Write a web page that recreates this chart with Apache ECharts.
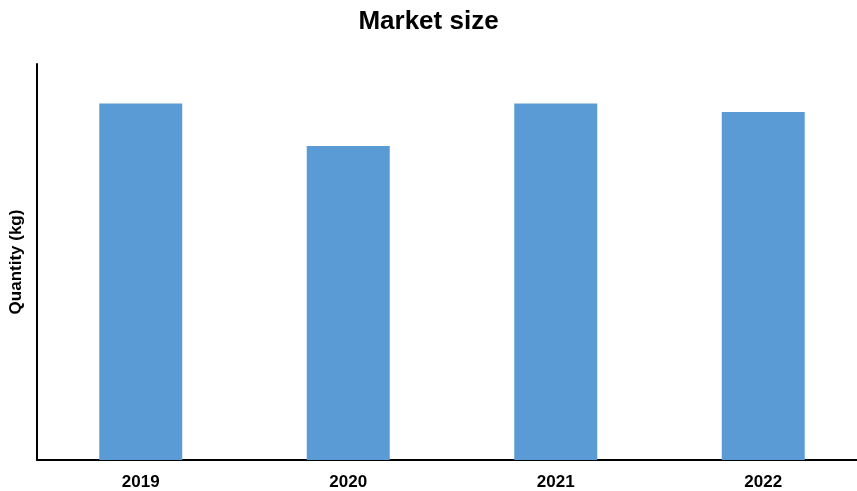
<!DOCTYPE html>
<html><head><meta charset="utf-8">
<script src="https://cdn.jsdelivr.net/npm/echarts@6/dist/echarts.min.js"></script>
<style>html,body{margin:0;padding:0;background:#fff}#c{width:857px;height:491px}</style>
</head><body><div id="c"></div>
<script>
const categories = ['2019', '2020', '2021', '2022'];
const marketSize = [90.0, 79.3, 90.0, 87.9];
const yMax = 100;

const chart = echarts.init(document.getElementById('c'), null, {renderer: 'canvas'});
chart.setOption({
  animation: false,
  backgroundColor: '#ffffff',
  title: {
    text: 'Market size', left: 'center', top: 4,
    textStyle: {fontFamily: 'Liberation Sans, Arial', fontWeight: 'bold', fontSize: 26, color: '#000'}
  },
  grid: {left: 37, right: -10, top: 64, bottom: 31, containLabel: false, outerBoundsMode: 'none'},
  xAxis: {
    type: 'category', data: categories,
    axisLine: {lineStyle: {color: '#000', width: 2}},
    axisTick: {show: false},
    axisLabel: {fontFamily: 'Liberation Sans, Arial', fontWeight: 'bold', fontSize: 17, color: '#000', margin: 14}
  },
  yAxis: {
    type: 'value', min: 0, max: yMax,
    name: 'Quantity (kg)', nameLocation: 'middle', nameGap: 12,
    nameTextStyle: {fontFamily: 'Liberation Sans, Arial', fontWeight: 'bold', fontSize: 17, color: '#000'},
    axisLine: {show: true, lineStyle: {color: '#000', width: 2}},
    axisTick: {show: false}, axisLabel: {show: false}, splitLine: {show: false}
  },
  series: [{
    type: 'bar', data: marketSize, barWidth: '40%',
    itemStyle: {color: '#5b9bd5'}
  }]
});
</script></body></html>
